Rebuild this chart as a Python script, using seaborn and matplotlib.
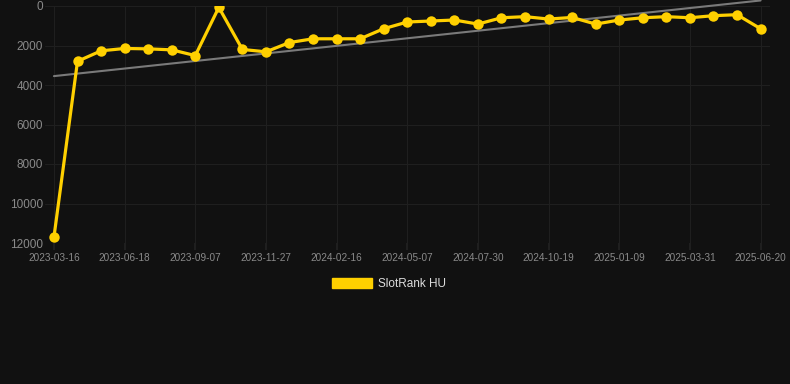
import matplotlib
matplotlib.use("Agg")
import matplotlib.pyplot as plt
import seaborn as sns
import numpy as np
import pandas as pd
from matplotlib.patches import Patch

tick_labels = ["2023-03-16", "2023-06-18", "2023-09-07", "2023-11-27", "2024-02-16",
               "2024-05-07", "2024-07-30", "2024-10-19", "2025-01-09", "2025-03-31",
               "2025-06-20"]
ranks = [11700, 2800, 2270, 2150, 2170, 2220, 2510, 70, 2200, 2320, 1850,
         1660, 1660, 1660, 1150, 810, 760, 710, 915, 595, 540,
         660, 580, 915, 710, 595, 540, 595, 490, 440, 1150]
trend_ends = [3550, -280]
series_name = "SlotRank HU"

idx = np.arange(len(ranks))
df = pd.DataFrame({"idx": idx, "rank": ranks})

sns.set_theme(style="dark")
plt.rcParams["font.family"] = ["Liberation Sans", "DejaVu Sans"]
bg = "#111111"
fig = plt.figure(figsize=(7.9, 3.84), dpi=100, facecolor=bg)
ax = fig.add_axes([45/790, 1-243/384, 725/790, 237/384])
ax.set_facecolor(bg)

# trend line
tl = sns.lineplot(x=[idx[0], idx[-1]], y=trend_ends, ax=ax, color="#7a7a7a",
                  linewidth=1.5, zorder=2)
for ln in ax.lines:
    ln.set_clip_on(False)

sns.lineplot(data=df, x="idx", y="rank", ax=ax, color="#FFD000", linewidth=2.3,
             marker="o", markersize=7.5, markeredgewidth=0, zorder=3)

ax.set_ylim(12000, 0)
ax.set_xlim(-0.38, 30.4)
ax.set_yticks(range(0, 12001, 2000))
ax.set_yticklabels([str(v) for v in range(0, 12001, 2000)])
ax.set_xticks(idx[::3])
ax.set_xticklabels(tick_labels)
ax.tick_params(axis="y", colors="#8a8a8a", labelsize=8.5, length=0, pad=1.5)
ax.tick_params(axis="x", colors="#8a8a8a", labelsize=7.2, length=5, pad=2,
               color="#222222", bottom=True)
for lbl in ax.get_xticklabels():
    lbl.set_color("#8a8a8a")
ax.grid(True, color="#1f1f1f", linewidth=0.8)
ax.set_xlabel("")
ax.set_ylabel("")
for s in ax.spines.values():
    s.set_visible(False)
if ax.get_legend():
    ax.get_legend().remove()

handle = Patch(facecolor="#FFD000", edgecolor="#FFD000")
fig.legend([handle], [series_name], loc="center", bbox_to_anchor=(389/790, 1-284/384),
           frameon=False, fontsize=8.5, labelcolor="#dddddd", handlelength=3.4,
           handleheight=1.0, handletextpad=0.5)

fig.savefig("out.png", dpi=100, facecolor=bg)
